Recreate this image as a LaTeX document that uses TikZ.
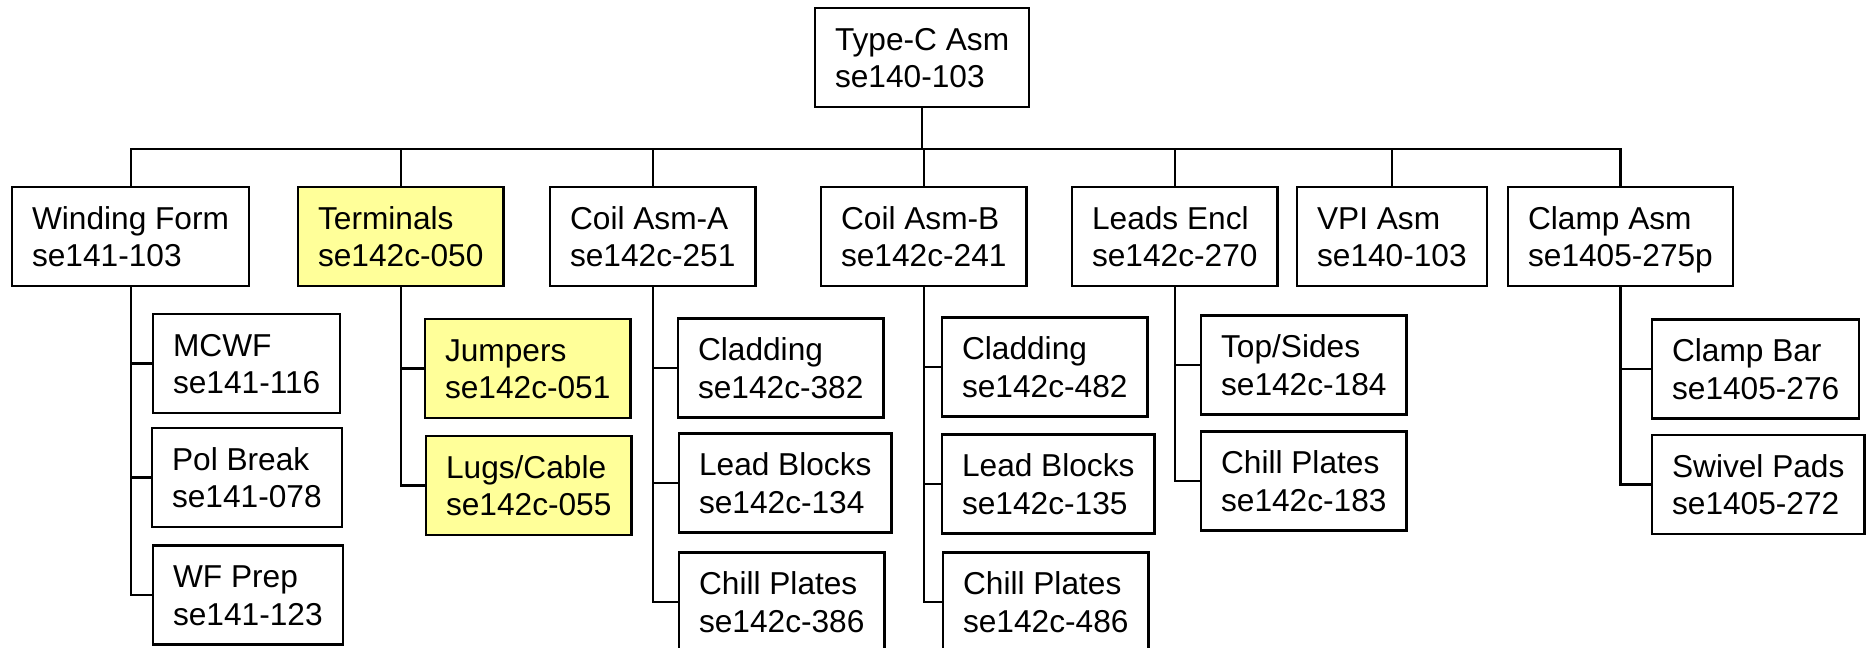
\documentclass[tikz,border=0pt]{standalone}
\usepackage{fontspec}
\setmainfont{Liberation Sans}
\definecolor{partyellow}{HTML}{FFFF99}
\begin{document}
\begin{tikzpicture}[x=0.01cm, y=-0.01cm,
    box/.style={draw=black, line width=0.6pt, fill=white, anchor=west,
        align=left, inner xsep=0.2cm, inner ysep=0pt,
        minimum height=0.99cm, text height=0.606cm, text depth=0cm,
        font=\fontsize{9}{10.7}\selectfont},
    hilite/.style={box, fill=partyellow},
    link/.style={line width=0.6pt}]

        \useasboundingbox (0,0) rectangle (1869,647);
        \clip (0,0) rectangle (1869,647);

        % Top assembly
        \node[box] (typec) at (814,57.5) {Type-C Asm\\se140-103};

        % First level
        \node[box] (wform)  at (11,236.5)   {Winding Form\\se141-103};
        \node[hilite] (term) at (297,236.5) {Terminals\\se142c-050};
        \node[box] (coila)  at (549,236.5)  {Coil Asm-A\\se142c-251};
        \node[box] (coilb)  at (820,236.5)  {Coil Asm-B\\se142c-241};
        \node[box] (leads)  at (1071,236.5) {Leads Encl\\se142c-270};
        \node[box] (vpi)    at (1296,236.5) {VPI Asm\\se140-103};
        \node[box] (clamp)  at (1507,236.5) {Clamp Asm\\se1405-275p};

        % Bus from top assembly
        \foreach \n in {wform,term,coila,coilb,leads,vpi,clamp}
            \draw[link] (typec.south) -- ++(0,41) -| (\n.north);

        % Winding form parts
        \node[box] (mcwf)   at (152,363.5) {MCWF\\se141-116};
        \node[box] (polbrk) at (151,477.5) {Pol Break\\se141-078};
        \node[box] (wfprep) at (152,595)   {WF Prep\\se141-123};
        \draw[link] (wform.south) |- (mcwf.west);
        \draw[link] (wform.south) |- (polbrk.west);
        \draw[link] (wform.south) |- (wfprep.west);

        % Terminal parts
        \node[hilite] (jump) at (424,368.5) {Jumpers\\se142c-051};
        \node[hilite] (lugs) at (425,485.5) {Lugs/Cable\\se142c-055};
        \draw[link] (term.south) |- (jump.west);
        \draw[link] (term.south) |- (lugs.west);

        % Coil A parts
        \node[box] (cladA) at (677,368) {Cladding\\se142c-382};
        \node[box] (blkA)  at (678,483) {Lead Blocks\\se142c-134};
        \node[box] (chilA) at (678,602) {Chill Plates\\se142c-386};
        \draw[link] (coila.south) |- (cladA.west);
        \draw[link] (coila.south) |- (blkA.west);
        \draw[link] (coila.south) |- (chilA.west);

        % Coil B parts
        \node[box] (cladB) at (941,367) {Cladding\\se142c-482};
        \node[box] (blkB)  at (941,484) {Lead Blocks\\se142c-135};
        \node[box] (chilB) at (942,602) {Chill Plates\\se142c-486};
        \draw[link] (coilb.south) |- (cladB.west);
        \draw[link] (coilb.south) |- (blkB.west);
        \draw[link] (coilb.south) |- (chilB.west);

        % Leads enclosure parts
        \node[box] (tops)  at (1200,365) {Top/Sides\\se142c-184};
        \node[box] (chilL) at (1200,481) {Chill Plates\\se142c-183};
        \draw[link] (leads.south) |- (tops.west);
        \draw[link] (leads.south) |- (chilL.west);

        % Clamp parts
        \node[box] (cbar)  at (1651,369)   {Clamp Bar\\se1405-276};
        \node[box] (swiv)  at (1651,484.5) {Swivel Pads\\se1405-272};
        \draw[link] (clamp.south) |- (cbar.west);
        \draw[link] (clamp.south) |- (swiv.west);

    \end{tikzpicture}
\end{document}
